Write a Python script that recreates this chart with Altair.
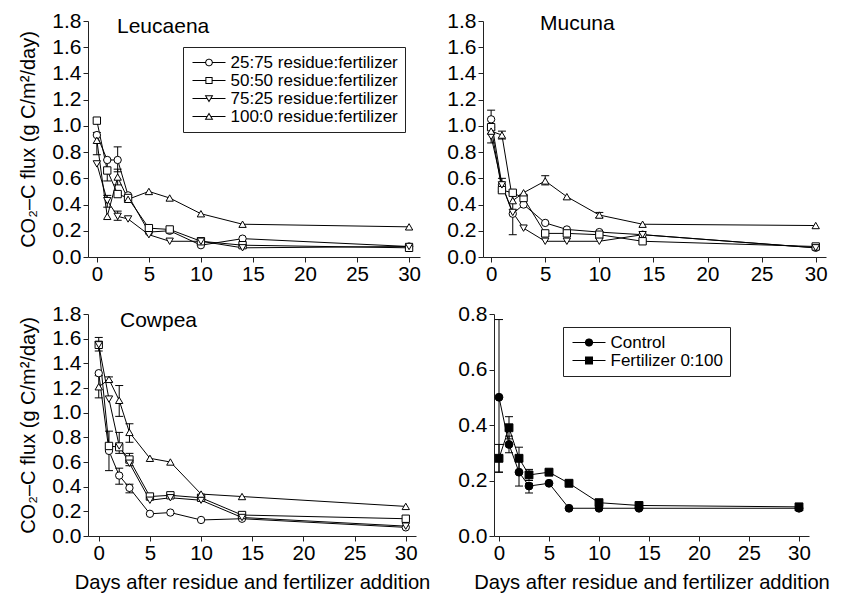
import math
import altair as alt
import pandas as pd

# ---------------- data ----------------
days = [0, 1, 2, 3, 5, 7, 10, 14, 30]

ratio_names = ["25:75 residue:fertilizer", "50:50 residue:fertilizer",
               "75:25 residue:fertilizer", "100:0 residue:fertilizer"]
ctrl_names = ["Control", "Fertilizer 0:100"]

# Leucaena
leu_25 = [0.93, 0.74, 0.74, 0.47, 0.19, 0.20, 0.09, 0.14, 0.08]
leu_50 = [1.04, 0.66, 0.48, 0.45, 0.22, 0.21, 0.12, 0.09, 0.07]
leu_75 = [0.71, 0.43, 0.31, 0.29, 0.17, 0.12, 0.12, 0.07, 0.08]
leu_100 = [0.89, 0.31, 0.61, 0.44, 0.50, 0.45, 0.33, 0.25, 0.23]
leu_err_day = [0, 1, 1, 2, 2, 2]
leu_err_lo = [0.78, 0.58, 0.38, 0.65, 0.55, 0.28]
leu_err_hi = [0.95, 0.74, 0.47, 0.84, 0.67, 0.35]

# Mucuna
muc_25 = [1.05, 0.55, 0.33, 0.40, 0.26, 0.21, 0.19, 0.17, 0.07]
muc_50 = [0.99, 0.51, 0.49, 0.45, 0.18, 0.18, 0.17, 0.12, 0.08]
muc_75 = [0.92, 0.55, 0.34, 0.22, 0.12, 0.12, 0.12, 0.17, 0.07]
muc_100 = [0.96, 0.93, 0.43, 0.49, 0.58, 0.46, 0.32, 0.25, 0.24]
muc_err_day = [0, 0, 1, 1, 2, 5, 10]
muc_err_lo = [0.99, 0.87, 0.50, 0.90, 0.17, 0.55, 0.30]
muc_err_hi = [1.12, 0.97, 0.60, 0.96, 0.49, 0.62, 0.34]

# Cowpea
cow_25 = [1.32, 0.69, 0.49, 0.39, 0.18, 0.19, 0.13, 0.14, 0.07]
cow_50 = [1.55, 0.73, 0.72, 0.62, 0.32, 0.33, 0.31, 0.17, 0.14]
cow_75 = [1.55, 1.11, 0.73, 0.59, 0.29, 0.31, 0.29, 0.15, 0.08]
cow_100 = [1.21, 1.27, 1.10, 0.84, 0.63, 0.60, 0.34, 0.32, 0.24]
cow_err_day = [0, 0, 1, 1, 2, 2, 2, 3, 3, 3]
cow_err_lo = [1.50, 1.12, 0.53, 1.25, 0.97, 0.67, 0.42, 0.76, 0.57, 0.35]
cow_err_hi = [1.61, 1.30, 0.85, 1.29, 1.22, 0.84, 0.55, 0.91, 0.67, 0.42]

# Control / fertilizer only
control = [0.50, 0.33, 0.23, 0.18, 0.19, 0.10, 0.10, 0.10, 0.10]
fert = [0.28, 0.39, 0.28, 0.22, 0.23, 0.19, 0.12, 0.11, 0.105]
cf_err_day = [0, 0, 1, 1, 2, 2, 3, 3]
cf_err_lo = [0.23, 0.23, 0.35, 0.30, 0.23, 0.18, 0.20, 0.155]
cf_err_hi = [0.78, 0.33, 0.43, 0.36, 0.32, 0.27, 0.24, 0.19]

x_ticks = [0, 5, 10, 15, 20, 25, 30]
y_ticks_big = [0.0, 0.2, 0.4, 0.6, 0.8, 1.0, 1.2, 1.4, 1.6, 1.8]
y_ticks_small = [0.0, 0.2, 0.4, 0.6, 0.8]

FONT = "Liberation Sans"
X_TITLE = "Days after residue and fertilizer addition"
Y_TITLE = "CO\u2082\u2013C flux (g C/m\u00b2/day)"

# ---------- legend glyphs (line segment + marker), drawn only with fill ----------
LEG_SYM = 289            # symbol size -> 17px box, 8.5 px per path unit
U = math.sqrt(LEG_SYM) / 2


def fmt(pts):
    return "M" + "L".join(f"{x / U:.3f},{y / U:.3f}" for x, y in pts) + "Z"


def seg(gap):
    half = 16.5
    return (fmt([(-half, -0.5), (-gap, -0.5), (-gap, 0.5), (-half, 0.5)]) +
            fmt([(gap, -0.5), (half, -0.5), (half, 0.5), (gap, 0.5)]))


def circle_pts(r, n=36, rev=False):
    pts = [(r * math.cos(2 * math.pi * k / n), r * math.sin(2 * math.pi * k / n)) for k in range(n)]
    return pts[::-1] if rev else pts


def shrink_tri(v, t=1.0):
    (ax, ay), (bx, by), (cx, cy) = v
    a = math.dist((bx, by), (cx, cy))
    b = math.dist((ax, ay), (cx, cy))
    c = math.dist((ax, ay), (bx, by))
    p = a + b + c
    ix, iy = (a * ax + b * bx + c * cx) / p, (a * ay + b * by + c * cy) / p
    area = abs((bx - ax) * (cy - ay) - (cx - ax) * (by - ay)) / 2
    ir = area / (p / 2)
    f = (ir - t) / ir
    return [(ix + f * (x - ix), iy + f * (y - iy)) for x, y in v]


tri_down = [(-4.3, -3.3), (4.3, -3.3), (0, 4.0)]
tri_up = [(-4.3, 3.3), (0, -4.0), (4.3, 3.3)]
LEG_OPEN = [
    seg(3.7) + fmt(circle_pts(3.8)) + fmt(circle_pts(2.8, rev=True)),
    seg(3.6) + fmt([(-3.6, -3.6), (3.6, -3.6), (3.6, 3.6), (-3.6, 3.6)])
    + fmt([(-2.6, -2.6), (-2.6, 2.6), (2.6, 2.6), (2.6, -2.6)]),
    seg(2.3) + fmt(tri_down) + fmt(shrink_tri(tri_down)[::-1]),
    seg(2.3) + fmt(tri_up) + fmt(shrink_tri(tri_up)[::-1]),
]
LEG_FILLED = [
    seg(3.9) + fmt(circle_pts(4.1)),
    seg(3.9) + fmt([(-4.0, -4.0), (4.0, -4.0), (4.0, 4.0), (-4.0, 4.0)]),
]


def series_frame(names, values):
    rows = [{"day": d, "flux": v, "series": n}
            for n, vals in zip(names, values) for d, v in zip(days, vals)]
    return pd.DataFrame(rows)


def panel(names, values, e_day, e_lo, e_hi, xdom, ydom, yticks, width, height,
          label, label_x, label_y, show_x_title, show_y_title, filled,
          legend_xy=None):
    xaxis = alt.Axis(values=x_ticks, labelFontSize=20.5, labelPadding=2, tickSize=5,
                     labelFlush=False, title=X_TITLE if show_x_title else None,
                     titleFontSize=20.2, titlePadding=9, titleFontWeight="normal")
    yaxis = alt.Axis(values=yticks, format=".1f", labelFontSize=21, labelPadding=2,
                     tickSize=5, labelFlush=False,
                     title=Y_TITLE if show_y_title else None,
                     titleFontSize=20, titlePadding=13, titleFontWeight="normal")

    def X(field):
        return alt.X(f"{field}:Q", scale=alt.Scale(domain=xdom, nice=False, zero=False), axis=xaxis)

    def Y(field):
        return alt.Y(f"{field}:Q", scale=alt.Scale(domain=ydom, nice=False, zero=False), axis=yaxis)

    df = series_frame(names, values)
    edf = pd.DataFrame({"day": e_day, "flux": e_lo, "hi": e_hi})
    shapes = ["circle", "square", "triangle-down", "triangle-up"][:len(names)]

    lines = alt.Chart(df).mark_line(color="black", strokeWidth=1).encode(
        x=X("day"), y=Y("flux"), detail="series:N", order="day:Q")
    rule = alt.Chart(edf).mark_rule(color="black", strokeWidth=1).encode(
        x=X("day"), y=Y("flux"), y2=alt.Y2("hi"))
    cap_lo = alt.Chart(edf).mark_tick(orient="horizontal", size=8, thickness=1,
                                      color="black", opacity=1).encode(x=X("day"), y=Y("flux"))
    cap_hi = alt.Chart(edf).mark_tick(orient="horizontal", size=8, thickness=1,
                                      color="black", opacity=1).encode(x=X("day"), y=Y("hi"))
    if filled:
        pts = alt.Chart(df).mark_point(filled=True, fill="black", stroke="black",
                                       strokeWidth=1, opacity=1, size=62)
    else:
        pts = alt.Chart(df).mark_point(filled=False, fill="white", stroke="black",
                                       strokeWidth=1, opacity=1, size=54)
    pts = pts.encode(x=X("day"), y=Y("flux"),
                     shape=alt.Shape("series:N", scale=alt.Scale(domain=names, range=shapes),
                                     legend=None))
    txt = alt.Chart(pd.DataFrame({"t": [label]})).mark_text(
        align="left", baseline="alphabetic", font=FONT, fontSize=21, color="black"
    ).encode(x=alt.value(label_x), y=alt.value(label_y), text="t:N")

    layers = [lines, rule, cap_lo, cap_hi, pts, txt]
    if legend_xy is not None:
        paths = LEG_FILLED if filled else LEG_OPEN
        leg_kw = dict(
            title=None, orient="none",
            legendX=legend_xy[0], legendY=legend_xy[1],
            strokeColor="#222", fillColor="white",
            padding=7, labelFont=FONT, labelFontSize=17,
            labelColor="black", labelOffset=13, labelLimit=400,
            rowPadding=legend_xy[2], symbolOffset=10.5,
            symbolSize=LEG_SYM, symbolStrokeWidth=0,
            symbolFillColor="black")
        if legend_xy[3]:
            leg_kw["labelExpr"] = "datum.label + '\u00a0\u00a0'"
        leg = alt.Chart(pd.DataFrame({"entry": names})).transform_filter("false").mark_point(
            filled=True, fill="black", opacity=1, size=LEG_SYM
        ).encode(
            shape=alt.Shape("entry:N", scale=alt.Scale(domain=names, range=paths),
                            legend=alt.Legend(**leg_kw)))
        layers.append(leg)
    ch = alt.layer(*layers).properties(width=width, height=height)
    if legend_xy is not None:
        ch = ch.resolve_scale(shape="independent")
    return ch


tl = panel(ratio_names, [leu_25, leu_50, leu_75, leu_100], leu_err_day, leu_err_lo, leu_err_hi,
           [-0.85, 31.05], [0, 1.8], y_ticks_big, 332, 236, "Leucaena", 29, 12,
           False, True, False, legend_xy=(95, 26, 0, True))
tr = panel(ratio_names, [muc_25, muc_50, muc_75, muc_100], muc_err_day, muc_err_lo, muc_err_hi,
           [-0.75, 30.95], [0, 1.8], y_ticks_big, 343, 236, "Mucuna", 57, 9,
           False, False, False)
bl = panel(ratio_names, [cow_25, cow_50, cow_75, cow_100], cow_err_day, cow_err_lo, cow_err_hi,
           [-1.05, 31.0], [0, 1.8], y_ticks_big, 328, 222, "Cowpea", 32, 13,
           True, True, False)
br = panel(ctrl_names, [control, fert], cf_err_day, cf_err_lo, cf_err_hi,
           [-0.5, 31.0], [0, 0.8], y_ticks_small, 315, 222, "", 0, 0,
           True, False, True, legend_xy=(69, 13, 0, False))

chart = alt.vconcat(
    alt.hconcat(tl, tr, spacing=25),
    alt.hconcat(bl, br, spacing=27),
    spacing=12,
).properties(
    padding={"left": 10, "top": 2, "right": 0, "bottom": 0}
).configure_view(stroke=None).configure_axis(
    grid=False, domainColor="#222", tickColor="#222", domainWidth=1, tickWidth=1,
    labelColor="black", titleColor="black", labelFont=FONT, titleFont=FONT
).configure_text(font=FONT)

chart.save("out.html", embed_options={"renderer": "svg", "actions": False})
